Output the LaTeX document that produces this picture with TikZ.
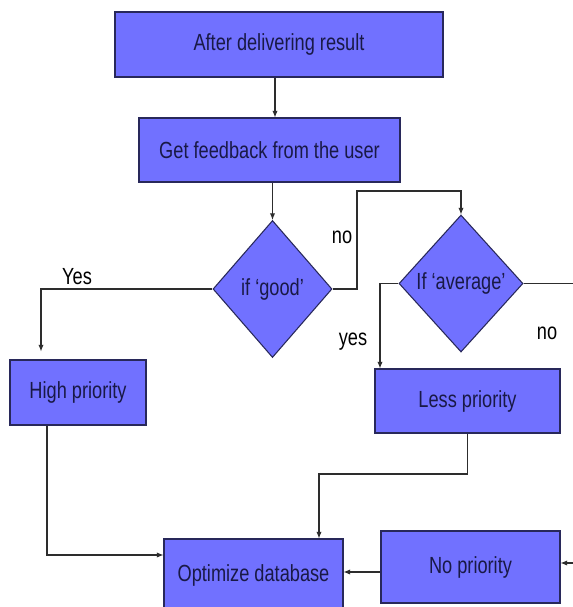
\documentclass[tikz,border=0pt]{standalone}
\usepackage{fontspec}
\setmainfont{Liberation Sans}[FakeStretch=0.78]
\usetikzlibrary{shapes.geometric,arrows.meta,calc}
\definecolor{boxfill}{RGB}{113,113,255}
\definecolor{boxdraw}{RGB}{40,40,90}
\definecolor{txt}{RGB}{25,25,70}
\definecolor{lin}{RGB}{45,45,45}
\tikzset{
 flowbox/.style={draw=boxdraw, fill=boxfill, line width=0.8pt, inner sep=0pt, text=txt, font=\fontsize{17.5}{20}\selectfont},
 decide/.style={flowbox, shape=diamond, aspect=1},
 conn/.style={draw=lin, line width=0.8pt, -{Latex[length=5pt,width=4pt]}},
 plain/.style={draw=lin, line width=0.8pt},
 lbl/.style={text=black, font=\fontsize{17.5}{20}\selectfont, inner sep=0pt}
}
\begin{document}
\begin{tikzpicture}[x=0.75pt,y=-0.75pt]
\clip (0,0) rectangle (573,607);
\fill[white] (0,0) rectangle (573,607);
% nodes
\node[flowbox, minimum width=246pt, minimum height=48.75pt] (b1) at (279,44.5) {After delivering result};
\node[flowbox, minimum width=195.75pt, minimum height=48pt] (b2) at (269.5,150) {Get feedback from the user};
\node[decide, minimum width=89.25pt, minimum height=102.75pt] (d1) at (272.5,289) {if ‘good’};
\node[decide, minimum width=93pt, minimum height=102.75pt] (d2) at (461,283.5) {If ‘average’};
\node[flowbox, minimum width=102pt, minimum height=48.75pt] (hp) at (78,392.5) {High priority};
\node[flowbox, minimum width=138.75pt, minimum height=48pt] (lp) at (467.5,401) {Less priority};
\node[flowbox, minimum width=134.25pt, minimum height=54pt] (opt) at (253.5,575) {Optimize database};
\node[flowbox, minimum width=134.25pt, minimum height=54pt] (np) at (470.5,567) {No priority};
% labels
\node[lbl] (lyes) at (77,277) {Yes};
\node[lbl] (lno) at (342,237) {no};
\node[lbl] (lyes2) at (353,342) {yes};
\node[lbl] (lno2) at (547,333) {no};
% connectors
\draw[conn] ([xshift=-3pt]b1.south) -- ([xshift=-3pt]b1.south |- b2.north);
\draw[conn] (b2.south -| d1.north) -- (d1.north);
\coordinate (ky) at (41,289);
\draw[conn, shorten >=6pt] (d1.west) -- (ky) -- (ky |- hp.north);
\coordinate (kn) at (357,191);
\draw[conn] (d1.east) -| (kn) -| (d2.north);
\coordinate (ky2) at (380,283.5);
\draw[conn] (d2.west) -- (ky2) -- (ky2 |- lp.north);
\coordinate (kr) at (580,283.5);
\draw[plain] (d2.east) -- (kr);
\coordinate (kl) at (319,474);
\draw[conn] (lp.south) |- (kl) -- (kl |- opt.north);
\coordinate (kh) at (47,555);
\draw[conn] (kh |- hp.south) -- (kh) -- (kh -| opt.west);
\coordinate (kp) at (381,572);
\draw[conn] (kp -| np.west) -- (kp -| opt.east);
\coordinate (ke) at (580,563);
\draw[conn] (ke) -- (ke -| np.east);
\end{tikzpicture}
\end{document}
